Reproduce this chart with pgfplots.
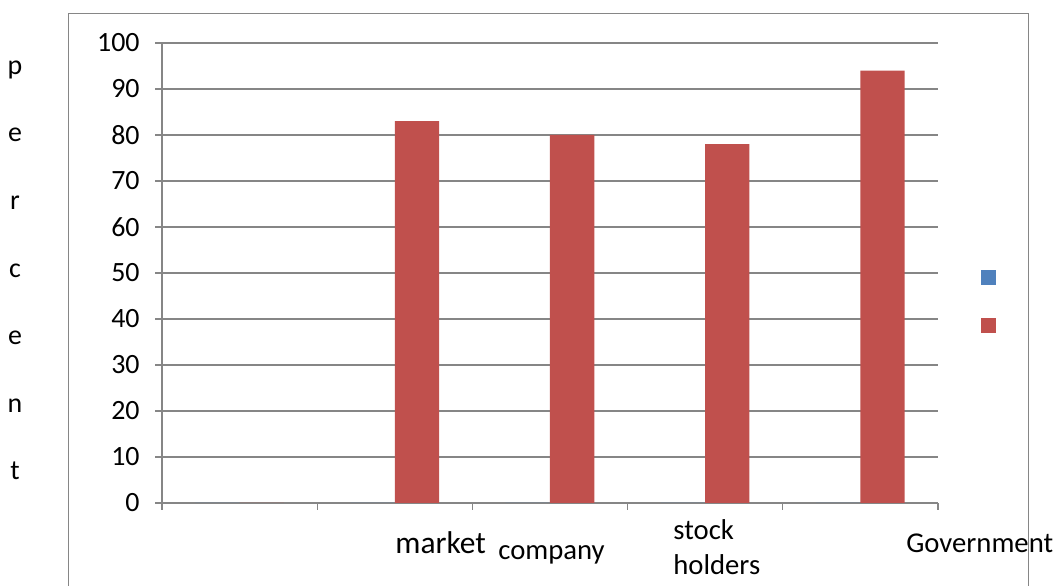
\documentclass[border=0pt]{standalone}
\usepackage{fontspec}
\setmainfont{Carlito}
\usepackage{pgfplots}
\pgfplotsset{compat=1.18}
\definecolor{xlblue}{HTML}{4F81BD}
\definecolor{xlred}{HTML}{C0504D}
\definecolor{xlgray}{HTML}{868686}
\begin{document}
\begin{tikzpicture}
\useasboundingbox (0,0) rectangle (529.5bp,293bp);
\begin{axis}[
  at={(81bp,41.5bp)}, anchor=south west,
  scale only axis, width=388bp, height=230bp,
  xmin=0, xmax=5, ymin=0, ymax=100,
  xtick={0,1,2,3,4,5}, xticklabels={},
  ytick={0,10,...,100},
  axis x line*=bottom, axis y line*=left,
  axis line style={-, xlgray, line width=0.6bp},
  tick align=outside, major tick length=3.5bp,
  tick style={xlgray, line width=0.6bp},
  ymajorgrids, grid style={xlgray, line width=0.6bp},
  yticklabel style={font=\fontsize{14}{16}\selectfont, inner sep=0pt, xshift=-7.5bp},
  /pgf/number format/assume math mode=true,
  ybar, bar width=22.15bp,
  legend style={at={(rel axis cs:1.0554,0.438)}, anchor=west, draw=none, fill=none,
    inner sep=0pt, row sep=16.5bp, nodes={inner sep=0pt}},
  legend image code/.code={\fill[#1] (0bp,-3.75bp) rectangle (7.5bp,3.75bp);},
]
\addplot[fill=xlblue, draw=none, bar shift=-11.07bp] coordinates {(0.5,0) (1.5,0) (2.5,0) (3.5,0) (4.5,0)};
\addlegendentry{}
\addplot[fill=xlred, draw=none, bar shift=11.07bp] coordinates {(0.5,0) (1.5,83) (2.5,80) (3.5,78) (4.5,94)};
\addlegendentry{}
\end{axis}
\begin{scope}[x=0.5bp, y=-0.5bp, yshift=293bp]
  \draw[xlgray, line width=0.75bp] (68.5,586) -- (68.5,13.5) -- (1028.5,13.5) -- (1028.5,586);
  \foreach \l [count=\i from 0] in {p,e,r,c,e,n,t}
    \node[anchor=base, inner sep=0pt, font=\fontsize{14}{16}\selectfont] at (15,{74.4+67.6*\i}) {\l};
  \node[anchor=base west, inner sep=0pt, font=\fontsize{15.8}{19}\selectfont] at (395,554) {market};
  \node[anchor=base west, inner sep=0pt, font=\fontsize{14.4}{17}\selectfont] at (498,560) {company};
  \node[anchor=base west, inner sep=0pt, font=\fontsize{14.4}{17}\selectfont] at (673,540) {stock};
  \node[anchor=base west, inner sep=0pt, font=\fontsize{14.4}{17}\selectfont] at (673,575) {holders};
  \node[anchor=base west, inner sep=0pt, font=\fontsize{14.4}{17}\selectfont] at (906,553) {Government};
\end{scope}
\end{tikzpicture}
\end{document}
